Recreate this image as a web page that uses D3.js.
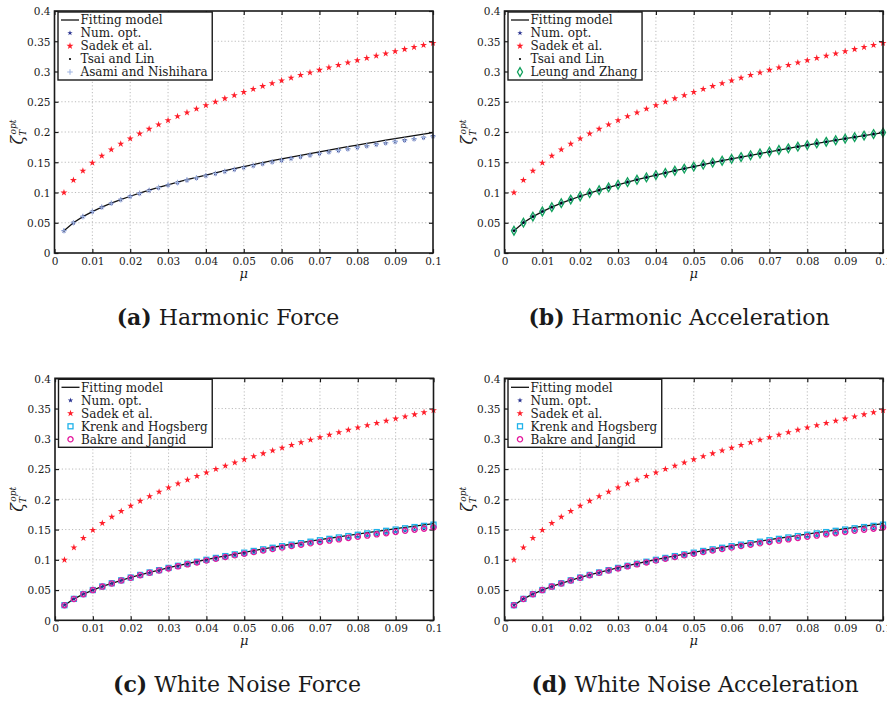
<!DOCTYPE html>
<html>
<head>
<meta charset="utf-8">
<script src="https://cdn.jsdelivr.net/npm/d3@7"></script>
<style>
  body { margin: 0; background: #fff; }
  text { font-family: "DejaVu Serif", serif; fill: #1a1a1a; }
</style>
</head>
<body>
<script>
// mass ratio grid used by every series
const mu = [0.0025, 0.005, 0.0075, 0.01, 0.0125, 0.015, 0.0175, 0.02, 0.0225, 0.025,
            0.0275, 0.03, 0.0325, 0.035, 0.0375, 0.04, 0.0425, 0.045, 0.0475, 0.05,
            0.0525, 0.055, 0.0575, 0.06, 0.0625, 0.065, 0.0675, 0.07, 0.0725, 0.075,
            0.0775, 0.08, 0.0825, 0.085, 0.0875, 0.09, 0.0925, 0.095, 0.0975, 0.1];

// Sadek et al. (same in all four panels)
const sadek = [0.0998, 0.1203, 0.1359, 0.1490, 0.1605, 0.1708, 0.1803, 0.1891, 0.1972, 0.2050,
               0.2123, 0.2192, 0.2258, 0.2322, 0.2383, 0.2442, 0.2499, 0.2554, 0.2607, 0.2658,
               0.2709, 0.2757, 0.2805, 0.2851, 0.2896, 0.2940, 0.2983, 0.3025, 0.3066, 0.3106,
               0.3146, 0.3185, 0.3223, 0.3260, 0.3296, 0.3332, 0.3368, 0.3402, 0.3436, 0.3470];

// harmonic excitation: fitting model and numerical optimum
const fitHarmonic = [0.0367, 0.0501, 0.0602, 0.0685, 0.0758, 0.0823, 0.0883, 0.0938, 0.0989, 0.1038,
                     0.1084, 0.1128, 0.1170, 0.1211, 0.1249, 0.1288, 0.1324, 0.1360, 0.1395, 0.1428,
                     0.1461, 0.1493, 0.1525, 0.1556, 0.1585, 0.1615, 0.1644, 0.1673, 0.1702, 0.1730,
                     0.1757, 0.1784, 0.1811, 0.1837, 0.1864, 0.1890, 0.1915, 0.1940, 0.1965, 0.1990];
const numOptHarmonicForce = [0.0367, 0.0501, 0.0602, 0.0685, 0.0757, 0.0822, 0.0881, 0.0936, 0.0986, 0.1034,
                             0.1080, 0.1123, 0.1164, 0.1204, 0.1241, 0.1278, 0.1313, 0.1348, 0.1381, 0.1413,
                             0.1444, 0.1475, 0.1505, 0.1534, 0.1562, 0.1590, 0.1617, 0.1644, 0.1670, 0.1696,
                             0.1721, 0.1746, 0.1770, 0.1794, 0.1818, 0.1841, 0.1864, 0.1886, 0.1908, 0.1930];
const numOptHarmonicAccel = [0.0368, 0.0502, 0.0602, 0.0686, 0.0758, 0.0824, 0.0883, 0.0938, 0.0990, 0.1038,
                             0.1084, 0.1128, 0.1171, 0.1211, 0.1250, 0.1288, 0.1324, 0.1360, 0.1395, 0.1428,
                             0.1461, 0.1494, 0.1525, 0.1556, 0.1586, 0.1615, 0.1644, 0.1673, 0.1702, 0.1730,
                             0.1757, 0.1784, 0.1811, 0.1838, 0.1864, 0.1890, 0.1915, 0.1941, 0.1966, 0.1991];

// white noise excitation
const fitWhiteNoise = [0.0250, 0.0354, 0.0433, 0.0500, 0.0559, 0.0612, 0.0661, 0.0708, 0.0752, 0.0793,
                       0.0831, 0.0869, 0.0904, 0.0938, 0.0972, 0.1004, 0.1035, 0.1066, 0.1095, 0.1124,
                       0.1152, 0.1179, 0.1206, 0.1232, 0.1258, 0.1283, 0.1308, 0.1332, 0.1356, 0.1379,
                       0.1403, 0.1425, 0.1448, 0.1470, 0.1492, 0.1514, 0.1535, 0.1556, 0.1576, 0.1597];
const numOptWhiteNoise = [0.0250, 0.0353, 0.0432, 0.0499, 0.0557, 0.0609, 0.0658, 0.0703, 0.0745, 0.0785,
                          0.0822, 0.0858, 0.0892, 0.0925, 0.0957, 0.0988, 0.1018, 0.1047, 0.1074, 0.1101,
                          0.1128, 0.1154, 0.1178, 0.1203, 0.1227, 0.1250, 0.1273, 0.1295, 0.1317, 0.1338,
                          0.1360, 0.1380, 0.1400, 0.1421, 0.1440, 0.1460, 0.1479, 0.1497, 0.1515, 0.1534];
const krenkHogsberg = [0.0250, 0.0354, 0.0433, 0.0500, 0.0559, 0.0612, 0.0661, 0.0707, 0.0750, 0.0791,
                       0.0829, 0.0866, 0.0901, 0.0935, 0.0968, 0.1000, 0.1031, 0.1061, 0.1090, 0.1118,
                       0.1146, 0.1173, 0.1199, 0.1225, 0.1250, 0.1275, 0.1299, 0.1323, 0.1346, 0.1369,
                       0.1392, 0.1414, 0.1436, 0.1458, 0.1479, 0.1500, 0.1521, 0.1541, 0.1561, 0.1581];

const xTicks = [0, 0.01, 0.02, 0.03, 0.04, 0.05, 0.06, 0.07, 0.08, 0.09, 0.1];
const yTicks = [0, 0.05, 0.1, 0.15, 0.2, 0.25, 0.3, 0.35, 0.4];
const tickFmt = d => d === 0 ? "0" : String(+d.toFixed(2));

const W = 887, H = 701;
const plotW = 378.5, plotH = 242;

const panels = [
  { left: 54.5, top: 11, tag: "(a)", caption: "Harmonic Force", capX: 228, capY: 325,
    series: [
      { name: "Fitting model", kind: "line", values: fitHarmonic },
      { name: "Num. opt.", kind: "num", values: numOptHarmonicForce },
      { name: "Sadek et al.", kind: "sadek", values: sadek },
      { name: "Tsai and Lin", kind: "tsai", values: numOptHarmonicForce },
      { name: "Asami and Nishihara", kind: "asami", values: numOptHarmonicForce }
    ] },
  { left: 504.5, top: 11, tag: "(b)", caption: "Harmonic Acceleration", capX: 679, capY: 325,
    series: [
      { name: "Fitting model", kind: "line", values: fitHarmonic },
      { name: "Num. opt.", kind: "num", values: numOptHarmonicAccel },
      { name: "Sadek et al.", kind: "sadek", values: sadek },
      { name: "Tsai and Lin", kind: "tsai", values: numOptHarmonicAccel },
      { name: "Leung and Zhang", kind: "leung", values: numOptHarmonicAccel }
    ] },
  { left: 55, top: 378.3, tag: "(c)", caption: "White Noise Force", capX: 237, capY: 692,
    series: [
      { name: "Fitting model", kind: "line", values: fitWhiteNoise },
      { name: "Num. opt.", kind: "num", values: numOptWhiteNoise },
      { name: "Sadek et al.", kind: "sadek", values: sadek },
      { name: "Krenk and Hogsberg", kind: "krenk", values: krenkHogsberg },
      { name: "Bakre and Jangid", kind: "bakre", values: numOptWhiteNoise }
    ] },
  { left: 504.5, top: 378.3, tag: "(d)", caption: "White Noise Acceleration", capX: 695, capY: 692,
    series: [
      { name: "Fitting model", kind: "line", values: fitWhiteNoise },
      { name: "Num. opt.", kind: "num", values: numOptWhiteNoise },
      { name: "Sadek et al.", kind: "sadek", values: sadek },
      { name: "Krenk and Hogsberg", kind: "krenk", values: krenkHogsberg },
      { name: "Bakre and Jangid", kind: "bakre", values: numOptWhiteNoise }
    ] }
];

const svg = d3.select("body").append("svg")
  .attr("width", W).attr("height", H)
  .style("display", "block");
svg.append("rect").attr("width", W).attr("height", H).attr("fill", "#fff");

const starBig = d3.symbol().type(d3.symbolStar).size(15)();
const starSmall = d3.symbol().type(d3.symbolStar).size(9)();
const diamond = d3.symbol().type(d3.symbolDiamond).size(22)();

// draws one marker of the given kind centred on (cx, cy)
function drawMarker(g, kind, cx, cy) {
  const m = g.append("g").attr("transform", `translate(${cx},${cy})`);
  if (kind === "sadek") {
    m.append("path").attr("d", starBig).attr("fill", "#ff1e2a");
  } else if (kind === "num") {
    m.append("path").attr("d", starSmall).attr("fill", "#27318f");
  } else if (kind === "tsai") {
    m.append("circle").attr("r", 1.1).attr("fill", "#000");
  } else if (kind === "asami") {
    m.append("path").attr("d", "M-2.8,0H2.8M0,-2.8V2.8")
      .attr("stroke", "#9fb4e0").attr("stroke-width", 1.1);
  } else if (kind === "leung") {
    m.append("path").attr("d", diamond).attr("fill", "none")
      .attr("stroke", "#10a05c").attr("stroke-width", 1.3);
  } else if (kind === "krenk") {
    m.append("rect").attr("x", -2.5).attr("y", -2.5).attr("width", 5).attr("height", 5)
      .attr("fill", "none").attr("stroke", "#1fb2ea").attr("stroke-width", 1.3);
  } else if (kind === "bakre") {
    m.append("circle").attr("r", 2.6).attr("fill", "none")
      .attr("stroke", "#e3189d").attr("stroke-width", 1.3);
  }
}

function drawPanel(p) {
  const g = svg.append("g");
  const x = d3.scaleLinear().domain([0, 0.1]).range([p.left, p.left + plotW]);
  const y = d3.scaleLinear().domain([0, 0.4]).range([p.top + plotH, p.top]);

  // dotted grid
  g.append("g").selectAll("line").data(xTicks.slice(1, -1)).join("line")
    .attr("x1", d => x(d)).attr("x2", d => x(d))
    .attr("y1", y(0)).attr("y2", y(0.4))
    .attr("stroke", "#b4b4b4").attr("stroke-width", 0.9).attr("stroke-dasharray", "1.2,2.2");
  g.append("g").selectAll("line").data(yTicks.slice(1, -1)).join("line")
    .attr("x1", x(0)).attr("x2", x(0.1))
    .attr("y1", d => y(d)).attr("y2", d => y(d))
    .attr("stroke", "#b4b4b4").attr("stroke-width", 0.9).attr("stroke-dasharray", "1.2,2.2");

  // inward ticks on all four sides
  const axB = g.append("g").attr("transform", `translate(0,${y(0)})`)
    .call(d3.axisBottom(x).tickValues(xTicks).tickFormat(tickFmt).tickSize(-4).tickPadding(4));
  const axL = g.append("g").attr("transform", `translate(${x(0)},0)`)
    .call(d3.axisLeft(y).tickValues(yTicks).tickFormat(tickFmt).tickSize(-4).tickPadding(4));
  g.append("g").attr("transform", `translate(0,${y(0.4)})`)
    .call(d3.axisTop(x).tickValues(xTicks).tickFormat("").tickSize(-4));
  g.append("g").attr("transform", `translate(${x(0.1)},0)`)
    .call(d3.axisRight(y).tickValues(yTicks).tickFormat("").tickSize(-4));
  g.selectAll(".domain").remove();
  g.selectAll(".tick line").attr("stroke", "#1a1a1a").attr("stroke-width", 1.2);
  g.selectAll(".tick text").attr("font-family", "DejaVu Serif").attr("font-size", 10.5).attr("fill", "#1a1a1a");
  axB.selectAll(".tick text").attr("dy", "0.72em");
  axL.selectAll(".tick text").attr("dy", "0.36em");

  // series
  const pts = mu.map((m, i) => i);
  p.series.forEach(s => {
    if (s.kind === "line") {
      g.append("path")
        .attr("d", d3.line().x(i => x(mu[i])).y(i => y(s.values[i]))(pts))
        .attr("fill", "none").attr("stroke", "#111").attr("stroke-width", 1.3);
    } else {
      const sg = g.append("g");
      pts.forEach(i => drawMarker(sg, s.kind, x(mu[i]), y(s.values[i])));
    }
  });

  // frame
  g.append("rect").attr("x", x(0)).attr("y", y(0.4))
    .attr("width", plotW).attr("height", plotH)
    .attr("fill", "none").attr("stroke", "#1a1a1a").attr("stroke-width", 1.6);

  // axis labels
  g.append("text").attr("x", x(0.05)).attr("y", y(0) + 25)
    .attr("text-anchor", "middle").attr("font-style", "italic").attr("font-size", 13)
    .text("μ");
  const yl = g.append("text")
    .attr("transform", `translate(${p.left - 32},${p.top + plotH / 2}) rotate(-90)`)
    .attr("text-anchor", "middle").attr("font-style", "italic");
  yl.append("tspan").attr("font-size", 16).text("ζ");
  yl.append("tspan").attr("font-size", 9).attr("dy", 3).text("T");
  yl.append("tspan").attr("font-size", 9).attr("dx", -4).attr("dy", -10).text("opt");

  // legend
  const lg = g.append("g");
  const bx = x(0) + 3.5, by = y(0.4) + 1;
  const rowH = 13;
  const box = lg.append("rect").attr("x", bx).attr("y", by)
    .attr("fill", "#fff").attr("stroke", "#1a1a1a").attr("stroke-width", 1.4);
  let maxW = 0;
  p.series.forEach((s, i) => {
    const cy = by + 8 + i * rowH;
    if (s.kind === "line") {
      lg.append("line").attr("x1", bx + 3).attr("x2", bx + 21).attr("y1", cy).attr("y2", cy)
        .attr("stroke", "#111").attr("stroke-width", 1.3);
    } else {
      drawMarker(lg, s.kind, bx + 12, cy);
    }
    const t = lg.append("text").attr("x", bx + 22.5).attr("y", cy + 4.2)
      .attr("font-size", 12).text(s.name);
    maxW = Math.max(maxW, t.node().getComputedTextLength());
  });
  box.attr("width", maxW + 27).attr("height", 8 + 4 * rowH + 8);

  // caption
  const cap = svg.append("text").attr("x", p.capX).attr("y", p.capY)
    .attr("text-anchor", "middle").attr("font-size", 22);
  cap.append("tspan").attr("font-weight", "bold").text(p.tag);
  cap.append("tspan").text(" " + p.caption);
}

panels.forEach(drawPanel);
</script>
</body>
</html>
